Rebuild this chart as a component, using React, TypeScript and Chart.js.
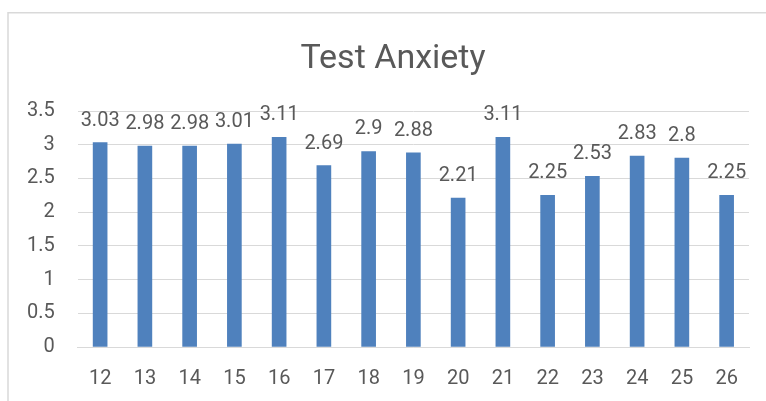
import React, { useEffect, useRef } from "react";
import { Chart, registerables } from "chart.js";

Chart.register(...registerables);

const categories: string[] = ["12", "13", "14", "15", "16", "17", "18", "19", "20", "21", "22", "23", "24", "25", "26"];
const testAnxiety: number[] = [3.03, 2.98, 2.98, 3.01, 3.11, 2.69, 2.9, 2.88, 2.21, 3.11, 2.25, 2.53, 2.83, 2.8, 2.25];
const yTicks: number[] = [0, 0.5, 1, 1.5, 2, 2.5, 3, 3.5];
const chartTitle = "Test Anxiety";

const TEXT = "#595959";
const GRID = "#D9D9D9";
const BAR = "#4F81BD";
const FONT = "Roboto";

const frame = {
  id: "frame",
  beforeDraw(chart: any) {
    const ctx = chart.ctx;
    ctx.save();
    ctx.strokeStyle = GRID;
    ctx.lineWidth = 1.5;
    ctx.beginPath();
    ctx.moveTo(8, chart.height);
    ctx.lineTo(8, 12.75);
    ctx.lineTo(chart.width, 12.75);
    ctx.stroke();
    // chart title, centred on the (cropped) chart frame
    ctx.fillStyle = TEXT;
    ctx.font = `34px ${FONT}`;
    ctx.textAlign = "center";
    ctx.textBaseline = "middle";
    ctx.fillText(chartTitle, 393, 59);
    ctx.restore();
  },
};

const valueLabels = {
  id: "valueLabels",
  afterDatasetsDraw(chart: any) {
    const ctx = chart.ctx;
    const meta = chart.getDatasetMeta(0);
    const data = chart.data.datasets[0].data as number[];
    ctx.save();
    ctx.fillStyle = TEXT;
    ctx.font = `20px ${FONT}`;
    ctx.textAlign = "center";
    ctx.textBaseline = "alphabetic";
    meta.data.forEach((bar: any, i: number) => {
      ctx.fillText(String(data[i]), bar.x, bar.y - 17);
    });
    ctx.restore();
  },
};

export default function App() {
  const ref = useRef<HTMLCanvasElement | null>(null);

  useEffect(() => {
    document.body.style.margin = "0";
    if (!ref.current) return;
    const chart = new Chart(ref.current, {
      type: "bar",
      data: {
        labels: categories,
        datasets: [
          {
            label: chartTitle,
            data: testAnxiety,
            backgroundColor: BAR,
            barThickness: 14,
          },
        ],
      },
      options: {
        animation: false,
        responsive: false,
        maintainAspectRatio: false,
        layout: { padding: { left: 4, right: 17, top: 111, bottom: -10 } },
        plugins: {
          legend: { display: false },
          tooltip: { enabled: false },
          title: { display: false },
        },
        scales: {
          x: {
            grid: { display: false, drawTicks: false },
            border: { display: true, color: GRID, width: 1 },
            ticks: { color: TEXT, font: { family: FONT, size: 20 }, padding: 20, maxRotation: 0 },
          },
          y: {
            min: 0,
            max: 3.5,
            afterBuildTicks(scale: any) {
              scale.ticks = yTicks.map((v) => ({ value: v }));
            },
            grid: { color: GRID, lineWidth: 1, drawTicks: false },
            border: { display: false },
            ticks: {
              color: TEXT,
              font: { family: FONT, size: 20 },
              padding: 23,
              callback: (v: any) => String(v),
            },
          },
        },
      },
      plugins: [frame, valueLabels],
    });
    return () => chart.destroy();
  }, []);

  return (
    <div style={{ width: 766, height: 401, background: "#fff" }}>
      <canvas ref={ref} width={766} height={401} style={{ display: "block" }} />
    </div>
  );
}
